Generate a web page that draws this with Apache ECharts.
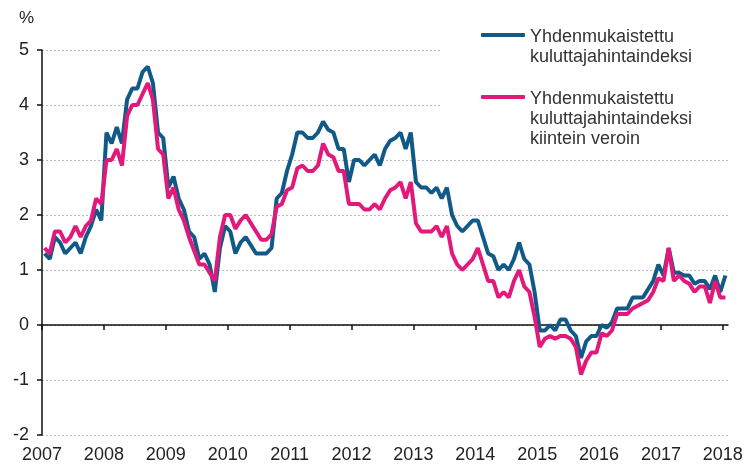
<!DOCTYPE html>
<html>
<head>
<meta charset="utf-8">
<script src="https://cdn.jsdelivr.net/npm/echarts@6/dist/echarts.min.js"></script>
<style>
  html, body { margin: 0; padding: 0; background: #fff; }
  #chart { width: 751px; height: 467px; }
</style>
</head>
<body>
<div id="chart"></div>
<script>
// kuukausittaiset vuosimuutokset 2007/01 - 2018/01
const startYear = 2007;
const yearTicks = [2007, 2008, 2009, 2010, 2011, 2012, 2013, 2014, 2015, 2016, 2017, 2018];
const yTicks = [-2, -1, 0, 1, 2, 3, 4, 5];

const hicp = [
  1.3, 1.2, 1.6, 1.5, 1.3, 1.4, 1.5, 1.3, 1.6, 1.8, 2.1, 1.9,
  3.5, 3.3, 3.6, 3.3, 4.1, 4.3, 4.3, 4.6, 4.7, 4.4, 3.5, 3.4,
  2.5, 2.7, 2.3, 2.1, 1.7, 1.6, 1.2, 1.3, 1.1, 0.6, 1.4, 1.8,
  1.7, 1.3, 1.5, 1.6, 1.45, 1.3, 1.3, 1.3, 1.4, 2.3, 2.4, 2.8,
  3.1, 3.5, 3.5, 3.4, 3.4, 3.5, 3.7, 3.55, 3.5, 3.2, 3.2, 2.6,
  3.0, 3.0, 2.9, 3.0, 3.1, 2.9, 3.2, 3.35, 3.4, 3.5, 3.2, 3.5,
  2.6, 2.5, 2.5, 2.4, 2.5, 2.3, 2.5, 2.0, 1.8, 1.7, 1.8, 1.9,
  1.9, 1.6, 1.3, 1.25, 1.0, 1.1, 1.0, 1.2, 1.5, 1.2, 1.1, 0.6,
  -0.1, -0.1, 0.0, -0.1, 0.1, 0.1, -0.1, -0.2, -0.6, -0.3, -0.2, -0.2,
  0.0, -0.05, 0.05, 0.3, 0.3, 0.3, 0.5, 0.5, 0.5, 0.65, 0.8, 1.1,
  0.9, 1.4, 0.95, 0.95, 0.9, 0.9, 0.75, 0.8, 0.8, 0.65, 0.9, 0.6,
  0.9
];

const hicpConstantTax = [
  1.4, 1.3, 1.7, 1.7, 1.5, 1.6, 1.8, 1.6, 1.8, 1.9, 2.3, 2.2,
  3.0, 3.0, 3.2, 2.9, 3.8, 4.0, 4.0, 4.2, 4.4, 4.1, 3.2, 3.1,
  2.3, 2.5, 2.1, 1.9, 1.6, 1.35, 1.1, 1.1, 0.95, 0.8, 1.6, 2.0,
  2.0, 1.75, 1.9, 2.0, 1.85, 1.7, 1.55, 1.55, 1.65, 2.15, 2.2, 2.45,
  2.5, 2.85, 2.9, 2.8, 2.8, 2.9, 3.3, 3.1, 3.05, 2.8, 2.8, 2.2,
  2.2, 2.2, 2.1, 2.1, 2.2, 2.1, 2.3, 2.45, 2.5, 2.6, 2.3, 2.6,
  1.85, 1.7, 1.7, 1.7, 1.8, 1.6, 1.8, 1.3, 1.1, 1.0, 1.1, 1.2,
  1.4, 1.1, 0.8, 0.8, 0.5, 0.6, 0.5, 0.8, 1.0, 0.7, 0.6, 0.15,
  -0.4, -0.25, -0.2, -0.25, -0.2, -0.2, -0.25, -0.4, -0.9, -0.65, -0.5, -0.5,
  -0.15, -0.2, -0.1, 0.2, 0.2, 0.2, 0.3, 0.35, 0.4, 0.45, 0.6, 0.85,
  0.8, 1.4, 0.8, 0.9, 0.8, 0.75, 0.6, 0.7, 0.7, 0.4, 0.8, 0.5,
  0.5
];

const nameHicp = 'Yhdenmukaistettu\nkuluttajahintaindeksi';
const nameConst = 'Yhdenmukaistettu\nkuluttajahintaindeksi\nkiintein veroin';

const font = '"Liberation Sans", Arial, sans-serif';
const blue = '#115a88';
const pink = '#e2187b';

// kuukausi -> vuosi (kuukauden keskikohta)
const toPoints = arr => arr.map((v, i) => [startYear + (i + 0.5) / 12, v]);

// rich-teksti, jotta padding siirtää tekstiä (ikoni ensimmäisen rivin kohdalle)
const richName = name => name.split('\n').map(l => '{t|' + l + '}').join('\n');

const chart = echarts.init(document.getElementById('chart'), null, { renderer: 'canvas' });

const legendBase = {
  orient: 'vertical',
  left: 481,
  padding: 0,
  itemWidth: 44,
  itemHeight: 4,
  icon: 'roundRect',
  selectedMode: false,
  formatter: richName
};

const legendRich = { t: { fontSize: 18, lineHeight: 20, color: '#333', fontFamily: font } };

chart.setOption({
  animation: false,
  backgroundColor: '#fff',
  textStyle: { fontFamily: font },
  grid: { left: 42, right: 23, top: 50, bottom: 32 },
  graphic: [
    { type: 'rect', z: 3, shape: { x: 441, y: 0, width: 310, height: 150 }, style: { fill: '#fff' } },
    { type: 'text', left: 19, top: 10, style: { text: '%', fontSize: 17, fill: '#222', fontFamily: font } }
  ],
  legend: [
    Object.assign({}, legendBase, {
      top: 3,
      data: [nameHicp],
      textStyle: { fontSize: 18, lineHeight: 20, color: '#333', fontFamily: font, padding: [24, 0, 0, 0], rich: legendRich }
    }),
    Object.assign({}, legendBase, {
      top: 45,
      data: [nameConst],
      textStyle: { fontSize: 18, lineHeight: 20, color: '#333', fontFamily: font, padding: [44, 0, 0, 0], rich: legendRich }
    })
  ],
  xAxis: {
    type: 'value',
    min: startYear,
    max: 2018 + 1 / 12,
    interval: 1,
    axisLine: { show: true, lineStyle: { color: '#111', width: 1.5 } },
    axisTick: { show: true, length: 5, customValues: yearTicks, lineStyle: { color: '#111', width: 1.5 } },
    axisLabel: { customValues: yearTicks, fontSize: 18, color: '#222', margin: 11, formatter: v => String(v) },
    splitLine: { show: false }
  },
  yAxis: {
    type: 'value',
    min: yTicks[0],
    max: yTicks[yTicks.length - 1],
    interval: 1,
    axisLine: { show: true, lineStyle: { color: '#111', width: 1.5 } },
    axisTick: { show: true, length: 5, lineStyle: { color: '#111', width: 1.5 } },
    axisLabel: { fontSize: 18, color: '#222', margin: 13 },
    splitLine: { show: true, lineStyle: { color: '#b9b9c8', width: 1, type: [2, 2] } }
  },
  series: [
    {
      name: nameHicp,
      type: 'line',
      data: toPoints(hicp),
      showSymbol: false,
      symbol: 'none',
      lineStyle: { color: blue, width: 4 },
      itemStyle: { color: blue }
    },
    {
      name: nameConst,
      type: 'line',
      data: toPoints(hicpConstantTax),
      showSymbol: false,
      symbol: 'none',
      lineStyle: { color: pink, width: 4 },
      itemStyle: { color: pink }
    }
  ]
});
</script>
</body>
</html>
